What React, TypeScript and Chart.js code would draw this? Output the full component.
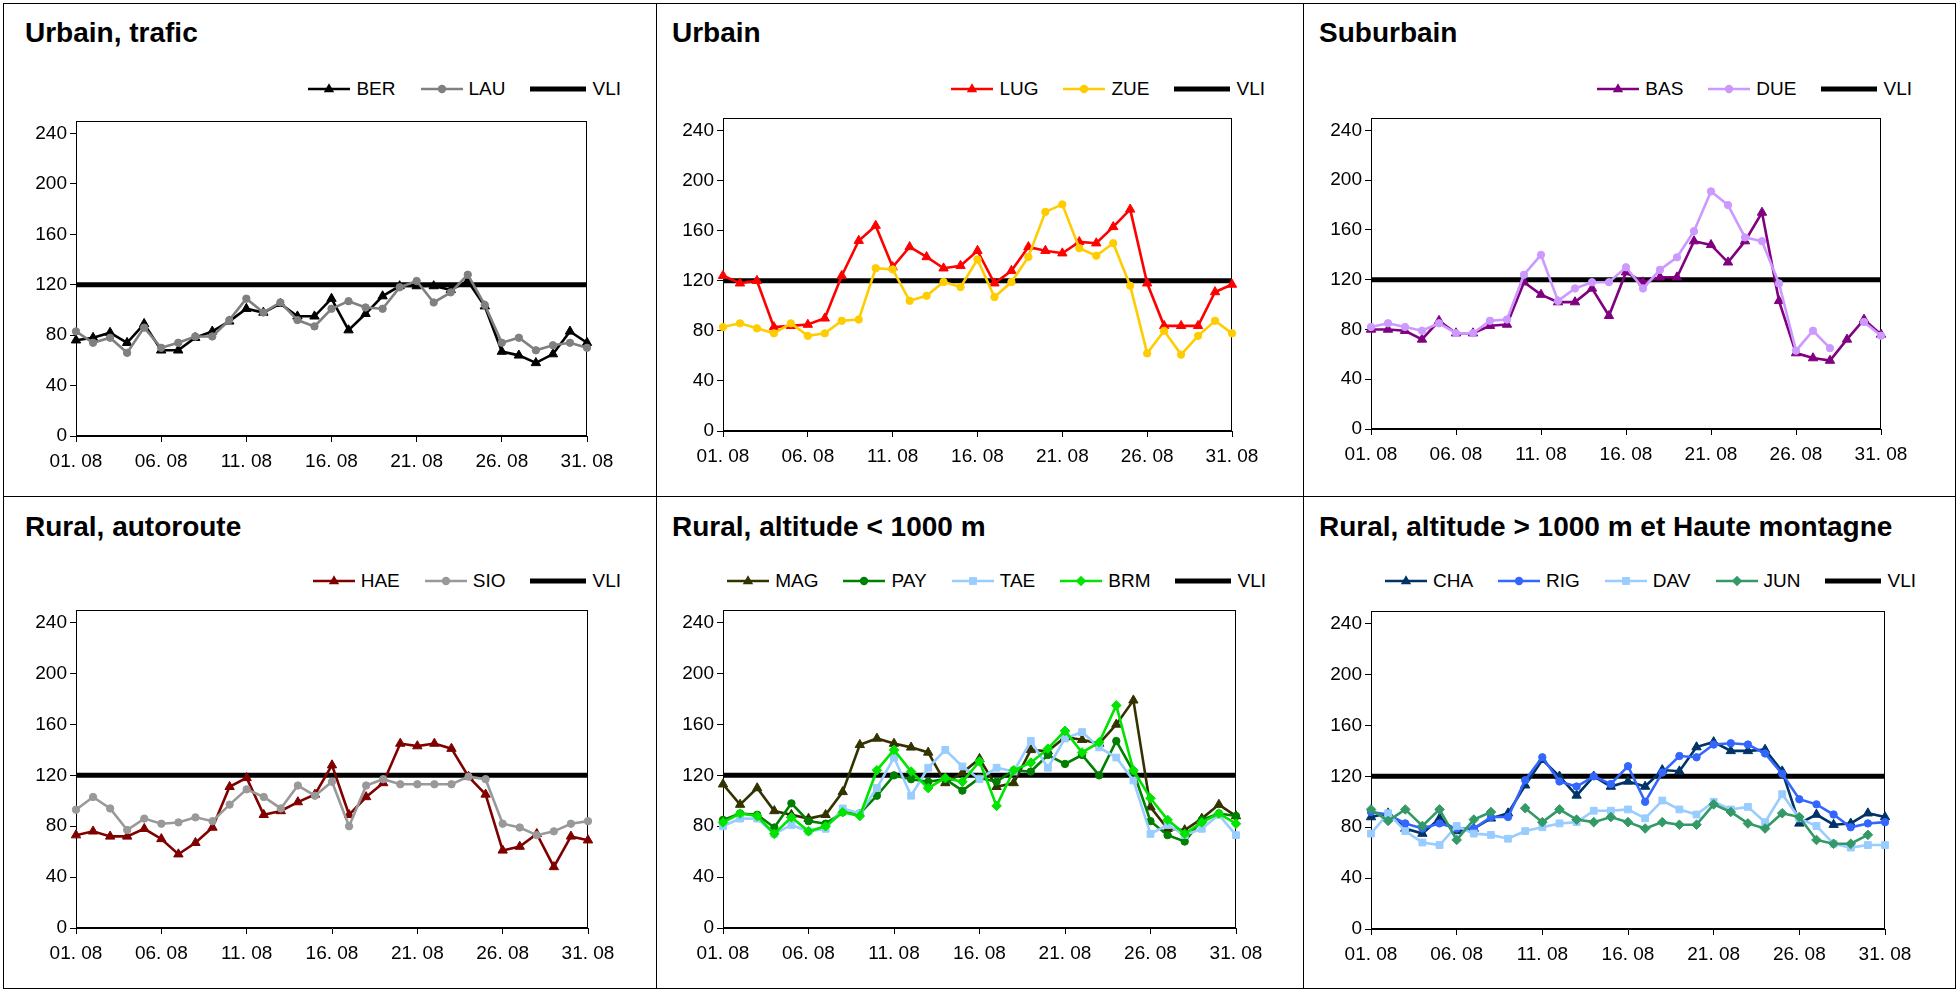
import React, { useEffect, useRef } from "react";
import { Chart, registerables } from "chart.js";

Chart.register(...registerables);

const FONT = "'Liberation Sans', Arial, Helvetica, sans-serif";

// ---------- data ----------
const DAYS = [
  "01. 08", "02. 08", "03. 08", "04. 08", "05. 08", "06. 08", "07. 08", "08. 08",
  "09. 08", "10. 08", "11. 08", "12. 08", "13. 08", "14. 08", "15. 08", "16. 08",
  "17. 08", "18. 08", "19. 08", "20. 08", "21. 08", "22. 08", "23. 08", "24. 08",
  "25. 08", "26. 08", "27. 08", "28. 08", "29. 08", "30. 08", "31. 08",
];
const X_TICK_LABELS = ["01. 08", "06. 08", "11. 08", "16. 08", "21. 08", "26. 08", "31. 08"];
const Y_TICKS = [0, 40, 80, 120, 160, 200, 240];
const Y_MIN = 0;
const Y_MAX = 250;

const VLI = [
  120, 120, 120, 120, 120, 120, 120, 120, 120, 120, 120, 120, 120, 120, 120, 120,
  120, 120, 120, 120, 120, 120, 120, 120, 120, 120, 120, 120, 120, 120, 120,
];

// Urbain, trafic
const BER = [76, 78, 82, 74, 89, 68, 68, 78, 83, 91, 101, 98, 105, 95, 95, 109, 84, 97, 111, 119, 119, 119, 116, 123, 103, 67, 64, 58, 65, 83, 74];
const LAU = [83, 74, 78, 66, 86, 70, 74, 79, 79, 92, 109, 98, 106, 92, 87, 101, 107, 102, 101, 118, 123, 106, 114, 128, 104, 74, 78, 68, 72, 74, 70];
// Urbain
const LUG = [124, 118, 120, 83, 84, 85, 90, 124, 152, 164, 131, 147, 139, 130, 132, 144, 118, 128, 147, 144, 142, 151, 150, 163, 177, 118, 84, 84, 84, 111, 117];
const ZUE = [83, 86, 82, 78, 86, 76, 78, 88, 89, 130, 129, 104, 108, 119, 115, 137, 107, 119, 139, 175, 181, 146, 140, 150, 116, 62, 80, 61, 76, 88, 78];
// Suburbain
const BAS = [80, 80, 79, 72, 87, 77, 77, 83, 84, 118, 108, 102, 102, 113, 91, 126, 118, 122, 122, 151, 148, 134, 151, 174, 103, 61, 57, 55, 72, 88, 76];
const DUE = [82, 85, 82, 79, 85, 77, 77, 87, 88, 124, 140, 103, 113, 118, 118, 130, 113, 128, 138, 159, 191, 180, 154, 151, 117, 63, 79, 65, null, 86, 75];
// Rural, autoroute
const HAE = [73, 76, 72, 72, 78, 70, 58, 67, 79, 111, 118, 89, 92, 99, 105, 128, 89, 103, 114, 145, 143, 145, 141, 119, 105, 61, 64, 74, 48, 72, 69];
const SIO = [93, 103, 94, 77, 86, 82, 83, 87, 84, 97, 109, 103, 94, 112, 104, 115, 80, 112, 117, 113, 113, 113, 113, 119, 117, 82, 79, 73, 76, 82, 84];
// Rural, altitude < 1000 m
const MAG = [113, 97, 110, 92, 89, 86, 89, 107, 144, 149, 145, 142, 138, 114, 122, 133, 111, 114, 140, 139, 150, 148, 145, 160, 179, 95, 78, 77, 86, 97, 88];
const PAY = [85, 90, 89, 79, 98, 84, 82, 91, 90, 104, 120, 117, 115, 117, 108, 118, 115, 124, 123, 136, 129, 136, 120, 147, 123, 84, 73, 68, 85, 90, 88];
const TAE = [80, 86, 86, 74, 81, 76, 78, 94, 90, 110, 134, 104, 126, 140, 127, 117, 126, 123, 147, 126, 149, 154, 142, 134, 116, 74, 81, 73, 78, 89, 73];
const BRM = [83, 90, 88, 74, 87, 76, 80, 91, 88, 124, 140, 123, 110, 118, 115, 131, 96, 124, 130, 141, 155, 138, 146, 175, 124, 102, 85, 74, 83, 90, 82];
// Rural, altitude > 1000 m et Haute montagne
const CHA = [88, 91, 79, 75, 87, 77, 79, 87, 91, 113, 133, 120, 105, 120, 112, 116, 112, 125, 124, 143, 147, 140, 140, 141, 124, 83, 90, 82, 83, 91, 88];
const RIG = [92, 90, 83, 79, 83, 79, 79, 88, 88, 117, 135, 116, 112, 120, 114, 128, 100, 123, 136, 135, 145, 146, 145, 138, 122, 102, 98, 90, 80, 83, 84];
const DAV = [75, 91, 77, 68, 66, 81, 75, 74, 71, 77, 80, 83, 84, 93, 93, 94, 87, 101, 94, 90, 100, 94, 96, 84, 106, 87, 81, 67, 64, 66, 66];
const JUN = [94, 85, 94, 81, 94, 70, 86, 92, null, 95, 84, 94, 86, 84, 88, 84, 79, 84, 82, 82, 98, 92, 83, 79, 91, 88, 70, 67, 67, 74, null];

// ---------- layout / style ----------
type Marker = "triangle" | "circle" | "rect" | "rectRot";
type Series = { label: string; data: (number | null)[]; color: string; marker: Marker };
type Panel = {
  title: string;
  series: Series[];
  titleX: number;
  titleTop: number;
  legendRight: number;
  legendCY: number;
  plot: { l: number; t: number; r: number; b: number };
};

const PANELS: Panel[] = [
  {
    title: "Urbain, trafic",
    series: [
      { label: "BER", data: BER, color: "#000000", marker: "triangle" },
      { label: "LAU", data: LAU, color: "#808080", marker: "circle" },
    ],
    titleX: 25, titleTop: 19, legendRight: 621, legendCY: 89,
    plot: { l: 76, t: 121, r: 587, b: 436 },
  },
  {
    title: "Urbain",
    series: [
      { label: "LUG", data: LUG, color: "#FF0000", marker: "triangle" },
      { label: "ZUE", data: ZUE, color: "#FFCC00", marker: "circle" },
    ],
    titleX: 672, titleTop: 19, legendRight: 1265, legendCY: 89,
    plot: { l: 723, t: 118, r: 1232, b: 431 },
  },
  {
    title: "Suburbain",
    series: [
      { label: "BAS", data: BAS, color: "#800080", marker: "triangle" },
      { label: "DUE", data: DUE, color: "#CC99FF", marker: "circle" },
    ],
    titleX: 1319, titleTop: 19, legendRight: 1912, legendCY: 89,
    plot: { l: 1371, t: 118, r: 1881, b: 429 },
  },
  {
    title: "Rural, autoroute",
    series: [
      { label: "HAE", data: HAE, color: "#800000", marker: "triangle" },
      { label: "SIO", data: SIO, color: "#999999", marker: "circle" },
    ],
    titleX: 25, titleTop: 513, legendRight: 621, legendCY: 581,
    plot: { l: 76, t: 610, r: 588, b: 928 },
  },
  {
    title: "Rural, altitude < 1000 m",
    series: [
      { label: "MAG", data: MAG, color: "#333300", marker: "triangle" },
      { label: "PAY", data: PAY, color: "#008000", marker: "circle" },
      { label: "TAE", data: TAE, color: "#99CCFF", marker: "rect" },
      { label: "BRM", data: BRM, color: "#00E400", marker: "rectRot" },
    ],
    titleX: 672, titleTop: 513, legendRight: 1266, legendCY: 581,
    plot: { l: 723, t: 610, r: 1236, b: 928 },
  },
  {
    title: "Rural, altitude > 1000 m et Haute montagne",
    series: [
      { label: "CHA", data: CHA, color: "#003366", marker: "triangle" },
      { label: "RIG", data: RIG, color: "#3366FF", marker: "circle" },
      { label: "DAV", data: DAV, color: "#99CCFF", marker: "rect" },
      { label: "JUN", data: JUN, color: "#339966", marker: "rectRot" },
    ],
    titleX: 1319, titleTop: 513, legendRight: 1916, legendCY: 581,
    plot: { l: 1371, t: 611, r: 1885, b: 929 },
  },
];

const YW = 64; // y-axis box width
const XH = 48; // x-axis box height
const PT = 16; // top padding
const PR = 44; // right padding

const RADIUS: Record<Marker, number> = { triangle: 5.4, circle: 3.7, rect: 4.8, rectRot: 4.8 };

const framePlugin = {
  id: "frame",
  beforeDatasetsDraw(chart: any) {
    const { ctx, chartArea: a } = chart;
    ctx.save();
    ctx.strokeStyle = "#000000";
    ctx.lineWidth = 1;
    ctx.strokeRect(Math.round(a.left) + 0.5, Math.round(a.top) + 0.5, Math.round(a.right - a.left) - 1, Math.round(a.bottom - a.top) - 1);
    ctx.restore();
  },
};

function PanelChart({ panel }: { panel: Panel }) {
  const ref = useRef<HTMLCanvasElement | null>(null);
  const { l, t, r, b } = panel.plot;
  const width = r - l + YW + PR;
  const height = b - t + PT + XH;

  useEffect(() => {
    if (!ref.current) return;
    const n = panel.series.length;
    const datasets: any[] = panel.series.map((s, i) => ({
      label: s.label,
      data: s.data,
      borderColor: s.color,
      backgroundColor: s.color,
      pointBackgroundColor: s.color,
      pointBorderColor: s.color,
      pointStyle: s.marker,
      pointRadius: RADIUS[s.marker],
      pointBorderWidth: 1,
      borderWidth: 2.6,
      tension: 0,
      spanGaps: false,
      clip: false,
      order: n - i,
    }));
    datasets.push({
      label: "VLI",
      data: VLI,
      borderColor: "#000000",
      backgroundColor: "#000000",
      borderWidth: 5,
      pointRadius: 0,
      tension: 0,
      order: 100,
    });
    const tickFont = { family: FONT, size: 19 };
    const chart = new Chart(ref.current, {
      type: "line",
      data: { labels: DAYS, datasets },
      options: {
        responsive: false,
        animation: false,
        devicePixelRatio: 1,
        layout: { padding: { left: 0, top: PT, right: PR, bottom: 0 } },
        plugins: { legend: { display: false }, tooltip: { enabled: false }, title: { display: false } },
        events: [],
        scales: {
          x: {
            type: "category",
            offset: false,
            grid: { display: true, drawOnChartArea: false, drawTicks: true, tickLength: 6, color: "#000000", lineWidth: 1 },
            border: { display: true, color: "#000000", width: 1 },
            ticks: {
              autoSkip: false,
              maxRotation: 0,
              minRotation: 0,
              color: "#000000",
              font: tickFont,
              padding: 8,
              callback: (v: any) => DAYS[v as number],
            },
            afterBuildTicks: (axis: any) => {
              axis.ticks = axis.ticks.filter((tk: any) => X_TICK_LABELS.includes(DAYS[tk.value]));
            },
            afterFit: (s: any) => {
              s.height = XH;
            },
          },
          y: {
            min: Y_MIN,
            max: Y_MAX,
            grid: { display: true, drawOnChartArea: false, drawTicks: true, tickLength: 6, color: "#000000", lineWidth: 1 },
            border: { display: true, color: "#000000", width: 1 },
            ticks: { stepSize: 40, color: "#000000", font: tickFont, padding: 3 },
            afterBuildTicks: (axis: any) => {
              axis.ticks = Y_TICKS.map((v) => ({ value: v }));
            },
            afterFit: (s: any) => {
              s.width = YW;
            },
          },
        },
      } as any,
      plugins: [framePlugin],
    });
    return () => chart.destroy();
  }, [panel]);

  return (
    <canvas
      ref={ref}
      width={width}
      height={height}
      style={{ position: "absolute", left: l - YW, top: t - PT, width, height }}
    />
  );
}

function LegendMarker({ type, color, cx, cy }: { type: Marker; color: string; cx: number; cy: number }) {
  if (type === "triangle") {
    return <polygon points={`${cx},${cy - 5.8} ${cx + 5.2},${cy + 3.2} ${cx - 5.2},${cy + 3.2}`} fill={color} />;
  }
  if (type === "circle") return <circle cx={cx} cy={cy} r={4.2} fill={color} />;
  if (type === "rect") return <rect x={cx - 3.9} y={cy - 3.9} width={7.8} height={7.8} fill={color} />;
  return <polygon points={`${cx},${cy - 5.2} ${cx + 5.2},${cy} ${cx},${cy + 5.2} ${cx - 5.2},${cy}`} fill={color} />;
}

function Legend({ panel }: { panel: Panel }) {
  const SW = 42;
  const VW = 56;
  const H = 22;
  return (
    <div
      style={{
        position: "absolute",
        right: 1959 - panel.legendRight,
        top: panel.legendCY - H / 2,
        height: H,
        display: "flex",
        alignItems: "center",
        fontFamily: FONT,
        fontSize: 19,
        color: "#000",
        whiteSpace: "nowrap",
      }}
    >
      {panel.series.map((s, i) => (
        <div key={s.label} style={{ display: "flex", alignItems: "center", marginLeft: i === 0 ? 0 : 25 }}>
          <svg width={SW} height={H} style={{ display: "block" }}>
            <line x1={0} y1={H / 2} x2={SW} y2={H / 2} stroke={s.color} strokeWidth={2.6} />
            <LegendMarker type={s.marker} color={s.color} cx={SW / 2} cy={H / 2} />
          </svg>
          <span style={{ marginLeft: 6, lineHeight: `${H}px` }}>{s.label}</span>
        </div>
      ))}
      <div style={{ display: "flex", alignItems: "center", marginLeft: 25 }}>
        <svg width={VW} height={H} style={{ display: "block" }}>
          <line x1={0} y1={H / 2} x2={VW} y2={H / 2} stroke="#000" strokeWidth={5} />
        </svg>
        <span style={{ marginLeft: 6, lineHeight: `${H}px` }}>VLI</span>
      </div>
    </div>
  );
}

const BORDER_X = [3, 656, 1303, 1955];
const BORDER_Y = [3, 496, 988];

export default function App() {
  return (
    <div
      style={{
        position: "absolute",
        left: 0,
        top: 0,
        width: 1959,
        height: 989,
        overflow: "hidden",
        background: "#ffffff",
      }}
    >
      {BORDER_X.map((x) => (
        <div key={"vx" + x} style={{ position: "absolute", left: x, top: 3, width: 1, height: 986, background: "#000" }} />
      ))}
      {BORDER_Y.map((y) => (
        <div key={"hy" + y} style={{ position: "absolute", left: 3, top: y, width: 1953, height: 1, background: "#000" }} />
      ))}
      {PANELS.map((p) => (
        <React.Fragment key={p.title}>
          <div
            style={{
              position: "absolute",
              left: p.titleX,
              top: p.titleTop,
              fontFamily: FONT,
              fontWeight: "bold",
              fontSize: 28,
              lineHeight: 1,
              color: "#000",
              whiteSpace: "nowrap",
            }}
          >
            {p.title}
          </div>
          <Legend panel={p} />
          <PanelChart panel={p} />
        </React.Fragment>
      ))}
    </div>
  );
}
